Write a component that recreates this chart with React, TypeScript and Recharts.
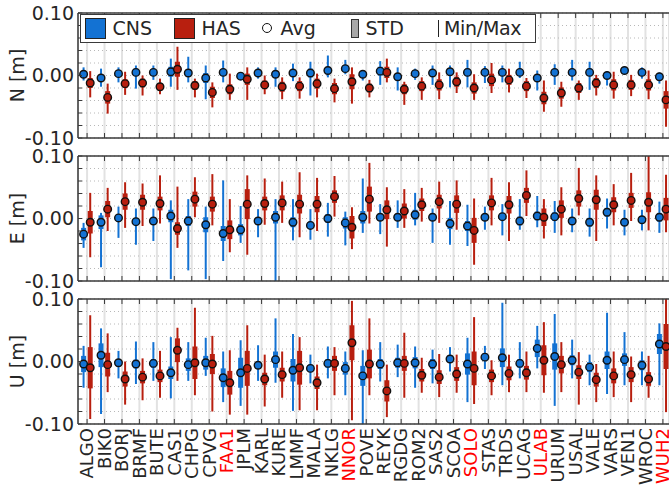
import { CartesianGrid, ComposedChart, ErrorBar, Label, Scatter, XAxis, YAxis } from "recharts"

const stations = [
    "ALGO", "BIK0", "BORJ", "BRMF", "BUTE", "CAS1", "CHPG", "CPVG", "FAA1", "JPLM", "KARL", "KURE",
    "LMMF", "MALA", "NKLG", "NNOR", "POVE", "REYK", "RGDG", "ROM2", "SAS2", "SCOA", "SOLO", "STAS",
    "TRDS", "UCAG", "ULAB", "URUM", "USAL", "VALE", "VARS", "VEN1", "WROC", "WUH2",
]
const redStations = ["FAA1", "NNOR", "SOLO", "ULAB", "WUH2"]
const yTicks = [-0.1, -0.08, -0.06, -0.04, -0.02, 0, 0.02, 0.04, 0.06, 0.08, 0.1]

// North
const nCnsAvg = [0.002, -0.004, 0.003, 0.005, 0.005, 0.006, 0.004, -0.004, 0.005, -0.001, 0.004, 0.002, 0.004, 0.004, 0.008, 0.011, 0.002, 0.007, -0.002, 0.003, 0.004, 0.006, 0.005, 0.005, 0.005, 0.005, -0.004, 0.005, 0.005, 0.005, 0.000, 0.008, 0.005, -0.002]
const nCnsStd = [0.004, 0.005, 0.004, 0.006, 0.004, 0.008, 0.006, 0.008, 0.005, 0.003, 0.004, 0.005, 0.005, 0.007, 0.006, 0.005, 0.003, 0.007, 0.006, 0.003, 0.005, 0.005, 0.006, 0.004, 0.004, 0.005, 0.006, 0.005, 0.005, 0.006, 0.004, 0.003, 0.004, 0.004]
const nCnsMin = [-0.008, -0.018, -0.011, -0.021, -0.007, -0.018, -0.011, -0.038, -0.011, -0.008, -0.005, -0.018, -0.009, -0.032, -0.003, 0.002, -0.008, -0.015, -0.024, -0.007, -0.015, -0.019, -0.019, -0.012, -0.011, -0.004, -0.024, -0.015, -0.008, -0.023, -0.016, 0.002, -0.005, -0.013]
const nCnsMax = [0.013, 0.011, 0.013, 0.016, 0.016, 0.027, 0.030, 0.016, 0.024, 0.005, 0.013, 0.013, 0.019, 0.022, 0.032, 0.025, 0.008, 0.023, 0.013, 0.011, 0.016, 0.016, 0.025, 0.015, 0.016, 0.022, 0.008, 0.018, 0.025, 0.022, 0.007, 0.013, 0.013, 0.005]
const nHasAvg = [-0.012, -0.035, -0.013, -0.012, -0.018, 0.010, -0.016, -0.027, -0.022, -0.006, -0.015, -0.018, -0.017, -0.013, -0.021, -0.010, -0.020, 0.005, -0.022, -0.017, -0.015, -0.010, -0.020, -0.007, -0.007, -0.017, -0.036, -0.028, -0.020, -0.012, -0.015, -0.015, -0.015, -0.039]
const nHasStd = [0.008, 0.010, 0.007, 0.007, 0.006, 0.012, 0.007, 0.009, 0.008, 0.009, 0.007, 0.008, 0.008, 0.008, 0.009, 0.012, 0.007, 0.009, 0.008, 0.008, 0.009, 0.008, 0.009, 0.010, 0.008, 0.008, 0.010, 0.009, 0.008, 0.008, 0.009, 0.008, 0.009, 0.014]
const nHasMin = [-0.035, -0.061, -0.031, -0.032, -0.030, -0.023, -0.035, -0.051, -0.039, -0.039, -0.030, -0.038, -0.037, -0.035, -0.043, -0.045, -0.035, -0.011, -0.047, -0.039, -0.038, -0.028, -0.039, -0.028, -0.027, -0.036, -0.058, -0.050, -0.039, -0.032, -0.037, -0.033, -0.038, -0.082]
const nHasMax = [0.007, -0.013, 0.006, 0.000, -0.005, 0.046, -0.005, -0.011, 0.003, 0.013, 0.000, -0.003, -0.003, 0.003, -0.005, 0.013, -0.007, 0.027, -0.010, -0.003, 0.005, 0.005, 0.002, 0.020, 0.011, -0.004, -0.008, -0.010, -0.008, 0.001, 0.006, 0.001, 0.008, -0.008]

// East
const eCnsAvg = [-0.025, -0.006, 0.001, -0.005, -0.004, 0.004, -0.004, -0.010, -0.024, -0.018, -0.004, 0.002, -0.006, -0.011, 0.000, -0.007, 0.002, 0.002, 0.002, 0.006, 0.002, -0.008, -0.012, 0.002, 0.003, -0.004, 0.004, 0.003, -0.004, -0.006, 0.010, -0.006, -0.002, 0.002]
const eCnsStd = [0.010, 0.011, 0.006, 0.006, 0.006, 0.010, 0.008, 0.012, 0.012, 0.009, 0.006, 0.010, 0.008, 0.006, 0.007, 0.009, 0.010, 0.006, 0.006, 0.008, 0.006, 0.009, 0.008, 0.005, 0.006, 0.007, 0.007, 0.007, 0.006, 0.007, 0.007, 0.006, 0.005, 0.007]
const eCnsMin = [-0.047, -0.078, -0.031, -0.042, -0.036, -0.097, -0.083, -0.097, -0.068, -0.039, -0.030, -0.100, -0.035, -0.034, -0.029, -0.043, -0.023, -0.025, -0.015, -0.011, -0.039, -0.042, -0.044, -0.018, -0.027, -0.018, -0.014, -0.023, -0.022, -0.029, -0.016, -0.027, -0.019, -0.023]
const eCnsMax = [-0.007, 0.009, 0.019, 0.016, 0.016, 0.029, 0.031, 0.019, 0.061, 0.020, 0.015, 0.031, 0.031, 0.015, 0.025, 0.011, 0.064, 0.023, 0.029, 0.041, 0.016, 0.028, 0.022, 0.019, 0.023, 0.031, 0.036, 0.028, 0.016, 0.016, 0.032, 0.014, 0.014, 0.027]
const eHasAvg = [-0.006, 0.015, 0.027, 0.026, 0.024, -0.016, 0.031, 0.023, -0.018, 0.023, 0.024, 0.025, 0.023, 0.023, 0.035, -0.014, 0.031, 0.014, 0.012, 0.022, 0.027, 0.023, -0.019, 0.025, 0.022, 0.037, 0.002, 0.015, 0.032, 0.030, 0.022, 0.029, 0.026, 0.015]
const eHasStd = [0.018, 0.013, 0.013, 0.012, 0.011, 0.010, 0.012, 0.012, 0.015, 0.024, 0.011, 0.012, 0.015, 0.013, 0.010, 0.018, 0.020, 0.015, 0.012, 0.010, 0.011, 0.014, 0.020, 0.012, 0.014, 0.012, 0.014, 0.014, 0.013, 0.016, 0.012, 0.012, 0.016, 0.018]
const eHasMin = [-0.062, -0.020, -0.015, -0.012, -0.008, -0.047, 0.002, -0.011, -0.054, -0.058, -0.010, -0.007, -0.030, -0.020, 0.003, -0.049, -0.008, -0.045, -0.015, -0.005, -0.007, -0.018, -0.074, -0.011, -0.036, 0.004, -0.032, -0.027, 0.005, -0.036, -0.011, -0.004, -0.019, -0.022]
const eHasMax = [0.041, 0.049, 0.058, 0.056, 0.069, 0.051, 0.066, 0.071, 0.031, 0.069, 0.064, 0.059, 0.074, 0.065, 0.068, 0.018, 0.089, 0.050, 0.047, 0.049, 0.059, 0.061, 0.032, 0.065, 0.058, 0.077, 0.031, 0.050, 0.081, 0.069, 0.055, 0.073, 0.100, 0.070]

// Up
const uCnsAvg = [-0.004, 0.010, -0.002, -0.004, -0.003, -0.018, -0.005, -0.002, -0.026, -0.018, -0.006, 0.003, -0.014, -0.011, -0.003, -0.011, -0.023, -0.004, -0.002, -0.002, -0.004, 0.004, -0.004, 0.007, 0.006, -0.003, 0.021, 0.008, 0.002, -0.009, 0.002, 0.003, -0.006, 0.028]
const uCnsStd = [0.013, 0.019, 0.006, 0.007, 0.007, 0.010, 0.010, 0.011, 0.015, 0.024, 0.006, 0.013, 0.018, 0.006, 0.007, 0.010, 0.016, 0.008, 0.008, 0.009, 0.008, 0.006, 0.017, 0.006, 0.015, 0.007, 0.014, 0.021, 0.008, 0.008, 0.014, 0.010, 0.008, 0.016]
const uCnsMin = [-0.042, -0.084, -0.027, -0.036, -0.031, -0.059, -0.031, -0.023, -0.065, -0.071, -0.031, -0.034, -0.079, -0.035, -0.027, -0.054, -0.100, -0.032, -0.025, -0.042, -0.035, -0.016, -0.065, -0.012, -0.038, -0.027, -0.011, -0.071, -0.027, -0.038, -0.052, -0.038, -0.038, -0.038]
const uCnsMax = [0.025, 0.053, 0.017, 0.032, 0.031, 0.039, 0.031, 0.038, 0.016, 0.034, 0.026, 0.069, 0.044, 0.011, 0.024, 0.016, 0.018, 0.031, 0.027, 0.024, 0.019, 0.023, 0.038, 0.025, 0.094, 0.031, 0.057, 0.076, 0.035, 0.011, 0.078, 0.047, 0.016, 0.061]
const uHasAvg = [-0.010, -0.005, -0.028, -0.025, -0.023, 0.018, -0.002, -0.004, -0.034, -0.011, -0.028, -0.021, -0.010, -0.034, -0.003, 0.030, -0.004, -0.047, -0.003, -0.022, -0.025, -0.020, -0.011, -0.023, -0.019, -0.018, 0.002, -0.005, -0.017, -0.029, -0.023, -0.021, -0.028, 0.024]
const uHasStd = [0.033, 0.019, 0.012, 0.010, 0.010, 0.019, 0.026, 0.016, 0.019, 0.028, 0.010, 0.011, 0.027, 0.010, 0.012, 0.028, 0.023, 0.017, 0.012, 0.010, 0.011, 0.011, 0.027, 0.010, 0.011, 0.011, 0.024, 0.014, 0.011, 0.011, 0.012, 0.012, 0.011, 0.036]
const uHasMin = [-0.092, -0.049, -0.069, -0.062, -0.058, -0.031, -0.054, -0.080, -0.085, -0.085, -0.072, -0.058, -0.078, -0.078, -0.054, -0.094, -0.054, -0.089, -0.058, -0.050, -0.057, -0.050, -0.068, -0.054, -0.049, -0.049, -0.050, -0.049, -0.069, -0.065, -0.057, -0.065, -0.058, -0.081]
const uHasMax = [0.074, 0.045, 0.000, 0.005, 0.017, 0.054, 0.086, 0.041, 0.018, 0.058, 0.011, 0.016, 0.039, -0.005, 0.023, 0.097, 0.069, -0.005, 0.046, 0.006, 0.012, 0.011, 0.071, 0.002, 0.011, 0.016, 0.063, 0.031, 0.015, -0.004, 0.016, 0.008, 0.009, 0.100]

const blue = "#1372d3"
const red = "#b81f0f"
const axisColor = "#3a3a3a"
const textColor = "#262626"
const font = "'DejaVu Sans', Verdana, sans-serif"
const xDomain = [0.48, 34.35]
const stationTicks = stations.map((_, i) => i + 1)

const build = (offset: number, avg: number[], std: number[], min: number[], max: number[]) =>
    stations.map((name, i) => ({
        name,
        x: i + 1 + offset,
        y: avg[i],
        sd: [std[i], std[i]],
        mm: [avg[i] - min[i], max[i] - avg[i]],
    }))

const ValueTick = (props: any) => {
    const { x, y, payload } = props
    const v = payload.value
    const show = Math.abs(v) > 0.099 || Math.abs(v) < 1e-9
    return (
        <g>
            <line x1={x} y1={y} x2={x + 4} y2={y} stroke={axisColor} strokeWidth={1} />
            {show && (
                <text x={x - 4} y={y} dy="0.36em" textAnchor="end" fontFamily={font} fontSize={19} fill={textColor}>
                    {v.toFixed(2)}
                </text>
            )}
        </g>
    )
}

const StationTick = (props: any) => {
    const { x, y, payload, showLabel } = props
    const name = stations[Math.round(payload.value) - 1]
    return (
        <g>
            <line x1={x} y1={y} x2={x} y2={y - 5} stroke={axisColor} strokeWidth={1} />
            {showLabel && (
                <text
                    transform={`translate(${x + 6.3},${y + 4}) rotate(-90)`}
                    textAnchor="end"
                    fontFamily={font}
                    fontSize={18}
                    fill={redStations.includes(name) ? "#ff0000" : textColor}
                >
                    {name}
                </text>
            )}
        </g>
    )
}

const TopTick = (props: any) => {
    const { x, y } = props
    return <line x1={x} y1={y} x2={x} y2={y + 5} stroke={axisColor} strokeWidth={1} />
}

const dot = (color: string) => (p: any) =>
    <circle cx={p.cx} cy={p.cy} r={3.8} fill={color} stroke="#111" strokeWidth={1.4} />

// legend box drawn over the top panel
const LegendBox = () => {
    const txt = { position: "absolute" as const, top: 0, lineHeight: "26px", whiteSpace: "nowrap" as const }
    return (
        <div
            style={{
                position: "absolute",
                left: 80,
                top: 14,
                width: 456,
                height: 29,
                boxSizing: "border-box",
                border: `1.5px solid ${axisColor}`,
                background: "#fff",
                fontFamily: font,
                fontSize: 19,
                color: textColor,
            }}
        >
            <div style={{ position: "absolute", left: 3.5, top: 2.5, width: 21, height: 21, boxSizing: "border-box", background: blue, border: "1.5px solid #222" }} />
            <span style={{ ...txt, left: 31.5 }}>CNS</span>
            <div style={{ position: "absolute", left: 92.5, top: 2.5, width: 21, height: 21, boxSizing: "border-box", background: red, border: "1.5px solid #222" }} />
            <span style={{ ...txt, left: 120.5 }}>HAS</span>
            <div style={{ position: "absolute", left: 180.5, top: 8, width: 10, height: 10, boxSizing: "border-box", borderRadius: "50%", border: "1.5px solid #111", background: "#fff" }} />
            <span style={{ ...txt, left: 199.5 }}>Avg</span>
            <div style={{ position: "absolute", left: 269.5, top: 3.5, width: 8, height: 19, boxSizing: "border-box", background: "#a8a8a8", border: "1.2px solid #333" }} />
            <span style={{ ...txt, left: 284.5 }}>STD</span>
            <div style={{ position: "absolute", left: 356.5, top: 5, width: 1.5, height: 17, background: "#222" }} />
            <span style={{ ...txt, left: 363, letterSpacing: -0.3 }}>Min/Max</span>
        </div>
    )
}

interface PanelProps {
    top: number
    height: number
    bottomHeight: number
    title: string
    cns: ReturnType<typeof build>
    has: ReturnType<typeof build>
    showStations?: boolean
}

const Panel = ({ top, height, bottomHeight, title, cns, has, showStations }: PanelProps) => (
    <div style={{ position: "absolute", left: 0, top, width: 669, height }}>
        <ComposedChart width={669} height={height} margin={{ top: 12, right: 0, bottom: 0, left: 0 }}>
            <CartesianGrid xAxisId="b" yAxisId="l" horizontal={false} stroke="#e2e2e2" strokeWidth={2} />
            <CartesianGrid xAxisId="b" yAxisId="l" vertical={false} stroke="#b8b8b8" strokeDasharray="1 3" />
            <XAxis
                xAxisId="b"
                type="number"
                dataKey="x"
                domain={xDomain}
                ticks={stationTicks}
                interval={0}
                allowDataOverflow
                height={bottomHeight}
                tickLine={false}
                tickSize={0}
                tickMargin={0}
                axisLine={{ stroke: axisColor, strokeWidth: 1.5 }}
                tick={<StationTick showLabel={showStations} />}
            />
            <XAxis
                xAxisId="t"
                orientation="top"
                type="number"
                dataKey="x"
                domain={xDomain}
                ticks={stationTicks}
                interval={0}
                allowDataOverflow
                height={1}
                tickLine={false}
                tickSize={0}
                tickMargin={0}
                axisLine={{ stroke: axisColor, strokeWidth: 1.5 }}
                tick={<TopTick />}
            />
            <YAxis
                yAxisId="l"
                type="number"
                dataKey="y"
                domain={[-0.1, 0.1]}
                ticks={yTicks}
                interval={0}
                allowDataOverflow
                width={78}
                tickLine={false}
                tickSize={0}
                tickMargin={0}
                axisLine={{ stroke: axisColor, strokeWidth: 1.5 }}
                tick={<ValueTick />}
            >
                <Label
                    content={() => (
                        <text transform="translate(24,75.5) rotate(-90)" textAnchor="middle" fontFamily={font} fontSize={19} fill={textColor}>
                            {title}
                        </text>
                    )}
                />
            </YAxis>
            <Scatter name="CNS" xAxisId="b" yAxisId="l" data={cns} dataKey="y" fill={blue} isAnimationActive={false} shape={dot(blue)}>
                <ErrorBar dataKey="mm" direction="y" width={0} stroke={blue} strokeWidth={2} />
                <ErrorBar dataKey="sd" direction="y" width={0} stroke={blue} strokeWidth={5} />
            </Scatter>
            <Scatter name="HAS" xAxisId="b" yAxisId="l" data={has} dataKey="y" fill={red} isAnimationActive={false} shape={dot(red)}>
                <ErrorBar dataKey="mm" direction="y" width={0} stroke={red} strokeWidth={2} />
                <ErrorBar dataKey="sd" direction="y" width={0} stroke={red} strokeWidth={5} />
            </Scatter>
        </ComposedChart>
    </div>
)

const App = () => (
    <div style={{ position: "absolute", left: 0, top: 0, width: 669, height: 501, background: "#fff", fontFamily: font }}>
        <Panel
            top={0}
            height={151}
            bottomHeight={13}
            title="N [m]"
            cns={build(-0.2, nCnsAvg, nCnsStd, nCnsMin, nCnsMax)}
            has={build(0.18, nHasAvg, nHasStd, nHasMin, nHasMax)}
        />
        <Panel
            top={143}
            height={151}
            bottomHeight={13}
            title="E [m]"
            cns={build(-0.2, eCnsAvg, eCnsStd, eCnsMin, eCnsMax)}
            has={build(0.18, eHasAvg, eHasStd, eHasMin, eHasMax)}
        />
        <Panel
            top={286}
            height={215}
            bottomHeight={77}
            title="U [m]"
            cns={build(-0.2, uCnsAvg, uCnsStd, uCnsMin, uCnsMax)}
            has={build(0.18, uHasAvg, uHasStd, uHasMin, uHasMax)}
            showStations
        />
        <LegendBox />
    </div>
)

export default App
